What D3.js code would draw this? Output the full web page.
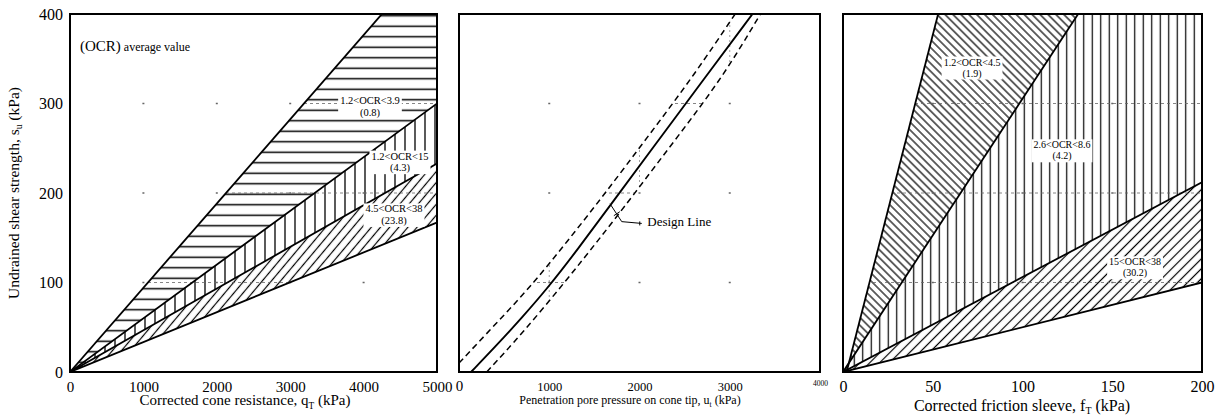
<!DOCTYPE html>
<html><head><meta charset="utf-8">
<script src="https://cdn.jsdelivr.net/npm/d3@7"></script>
<style>
body{margin:0;background:#fff}
svg{display:block}
text{font-family:"Liberation Serif","Times New Roman",serif;fill:#000}
</style>
</head><body>
<svg id="c" width="1221" height="418"></svg>
<script>
// ---------- data ----------
const yTicks = [0,100,200,300,400];
const qTicks = [0,1000,2000,3000,4000,5000];
const uTicks = [0,1000,2000,3000,4000];
const fTicks = [0,50,100,150,200];

// left panel: boundary lines (q_T kPa, s_u kPa)
const qLine1 = [[0,0],[4250,400]];
const qLine2 = [[0,0],[5000,300]];
const qLine3 = [[0,0],[5000,233]];
const qLine4 = [[0,0],[5000,167]];
const qLabelPos = [[4087,302],[4496,240],[4414,181]];
const qLabelText = ["1.2<OCR<3.9","1.2<OCR<15","4.5<OCR<38"];
const qLabelAvg = ["(0.8)","(4.3)","(23.8)"];

// middle panel: (u_t kPa, s_u kPa)
const designLine = [[133,0],[400,28],[700,61],[1000,96],[1300,135],[1700,189.5],[2200,257.5],[2700,325.5],[3252,400]];
const upperBound = [[0,10],[400,53],[800,96],[1200,146],[1600,197],[2100,264],[2600,331],[3060,400]];
const lowerBound = [[307,0],[700,43],[1178,101],[1550,148],[1919,196],[2430,264],[2933,331],[3340,400]];
const designLeader = [[1673,188],[1803,168],[2025,166]];
const designLabelPos = [2086,166];

// right panel: (f_T kPa, s_u kPa)
const fLine1 = [[2,0],[53,400]];
const fLine2 = [[0,0],[131,400]];
const fLine3 = [[0,0],[200,212]];
const fLine4 = [[0,0],[200,100]];
const fLabelPos = [[71.9,345],[122,252.5],[162.7,121.8]];
const fLabelText = ["1.2<OCR<4.5","2.6<OCR<8.6","15<OCR<38"];
const fLabelAvg = ["(1.9)","(4.2)","(30.2)"];

// ---------- scales ----------
const svg = d3.select("#c");
const defs = svg.append("defs");
const y  = d3.scaleLinear().domain([0,400]).range([372,14]);
const xL = d3.scaleLinear().domain([0,5000]).range([70,437]);
const xM = d3.scaleLinear().domain([0,4000]).range([459,820]);
const xR = d3.scaleLinear().domain([0,200]).range([843,1202]);

function hatch(id, spacing, angle, sw){
  const p = defs.append("pattern").attr("id",id).attr("patternUnits","userSpaceOnUse")
    .attr("width",spacing).attr("height",spacing).attr("patternTransform",`rotate(${angle})`);
  p.append("line").attr("x1",spacing/2).attr("x2",spacing/2).attr("y1",-1).attr("y2",spacing+1)
    .attr("stroke","#000").attr("stroke-width",sw);
}
hatch("hH",10.5,90,1.5);
hatch("hV",10,0,1.3);
hatch("hD1",7,40,1.2);
hatch("hVR",8.5,0,1.2);
hatch("hBk",5.6,-45,1.2);
hatch("hD2",7,45,1.2);

function clipRect(id, x){
  defs.append("clipPath").attr("id",id).append("rect")
    .attr("x",x.range()[0]).attr("y",y.range()[1])
    .attr("width",x.range()[1]-x.range()[0]).attr("height",y.range()[0]-y.range()[1]);
}
clipRect("cL",xL); clipRect("cM",xM); clipRect("cR",xR);

function ext(line, x){
  const a=[x(line[0][0]),y(line[0][1])], b=[x(line[1][0]),y(line[1][1])];
  return [a,[a[0]+(b[0]-a[0])*4, a[1]+(b[1]-a[1])*4]];
}
function wedge(l1,l2,x){
  const e1=ext(l1,x), e2=ext(l2,x);
  return "M"+[e1[0],e1[1],e2[1],e2[0]].map(p=>p.join(",")).join("L")+"Z";
}

function gridAndDots(g, x, xt, clipId, vertical){
  const inner = xt.slice(1,-1), yi = yTicks.slice(1,-1);
  const gg = g.append("g").attr("clip-path",`url(#${clipId})`);
  if (vertical) gg.selectAll("line.gx").data(inner).join("line").attr("x1",d=>x(d)).attr("x2",d=>x(d))
    .attr("y1",y(0)).attr("y2",y(400)).attr("stroke","#777").attr("stroke-width",0.7).attr("stroke-dasharray","2,3");
  gg.selectAll("line.gy").data(yi).join("line").attr("y1",d=>y(d)).attr("y2",d=>y(d))
    .attr("x1",x.range()[0]).attr("x2",x.range()[1]).attr("stroke","#666").attr("stroke-width",0.8).attr("stroke-dasharray","3,3");
  const pts=[]; inner.forEach(a=>yi.forEach(b=>pts.push([a,b])));
  g.selectAll("rect.dot").data(pts).join("rect").attr("x",d=>x(d[0])-1).attr("y",d=>y(d[1])-0.75)
    .attr("width",2).attr("height",1.5).attr("fill","#666");
}

function labels(g, x, pos, t1, t2, fs){
  pos.forEach((p,i)=>{
    const lg = g.append("g");
    const r = lg.append("rect").attr("fill","#fff");
    const a = lg.append("text").attr("x",x(p[0])).attr("y",y(p[1])).attr("text-anchor","middle")
      .attr("dominant-baseline","middle").attr("font-size",fs).text(t1[i]);
    const b = lg.append("text").attr("x",x(p[0])).attr("y",y(p[1])+fs*1.1).attr("text-anchor","middle")
      .attr("dominant-baseline","middle").attr("font-size",fs).text(t2[i]);
    const b1=a.node().getBBox(), b2=b.node().getBBox();
    const x0=Math.min(b1.x,b2.x)-2, x1=Math.max(b1.x+b1.width,b2.x+b2.width)+2;
    r.attr("x",x0).attr("y",b1.y).attr("width",x1-x0).attr("height",b2.y+b2.height-b1.y);
  });
}

function frame(x){
  svg.append("rect").attr("x",x.range()[0]).attr("y",y.range()[1])
    .attr("width",x.range()[1]-x.range()[0]).attr("height",y.range()[0]-y.range()[1])
    .attr("fill","none").attr("stroke","#000").attr("stroke-width",2);
}

function xAxis(x, ticks, fs, pad){
  const g = svg.append("g").attr("transform",`translate(0,${y(0)})`)
    .call(d3.axisBottom(x).tickValues(ticks).tickSize(0).tickPadding(pad).tickFormat(d3.format("d")));
  g.select(".domain").remove();
  g.selectAll("text").attr("font-size",fs).attr("font-family","Liberation Serif").attr("fill","#000");
  return g;
}

// ---------- left panel ----------
const gL = svg.append("g").attr("clip-path","url(#cL)");
defs.append("clipPath").attr("id","wL").append("path").attr("d",wedge(qLine1,qLine4,xL));
gL.append("path").attr("d",wedge(qLine1,qLine2,xL)).attr("fill","url(#hH)");
gL.append("path").attr("d",wedge(qLine2,qLine3,xL)).attr("fill","url(#hV)");
gL.append("path").attr("d",wedge(qLine3,qLine4,xL)).attr("fill","url(#hD1)");
gridAndDots(gL, xL, qTicks, "wL", false);
[qLine1,qLine2,qLine3,qLine4].forEach(l=>{
  const e=ext(l,xL);
  gL.append("line").attr("x1",e[0][0]).attr("y1",e[0][1]).attr("x2",e[1][0]).attr("y2",e[1][1])
    .attr("stroke","#000").attr("stroke-width",1.8);
});
labels(gL, xL, qLabelPos, qLabelText, qLabelAvg, 10.5);
const ocr = svg.append("text").attr("x",xL(136)).attr("y",y(362)).attr("dominant-baseline","middle");
ocr.append("tspan").attr("font-size",15).text("(OCR)");
ocr.append("tspan").attr("font-size",12).text(" average value");
frame(xL);
xAxis(xL, qTicks, 15, 9);

// ---------- middle panel ----------
const gM = svg.append("g").attr("clip-path","url(#cM)");
const ln = d3.line().x(d=>xM(d[0])).y(d=>y(d[1])).curve(d3.curveBasis);
const bandD = ln(upperBound) + ln(lowerBound.slice().reverse()).replace(/^M/,"L") + "Z";
defs.append("clipPath").attr("id","wM").append("path").attr("d",bandD);
gridAndDots(gM, xM, uTicks, "wM", true);
gM.append("path").attr("d",ln(upperBound)).attr("fill","none").attr("stroke","#000").attr("stroke-width",1.5).attr("stroke-dasharray","6,4");
gM.append("path").attr("d",ln(lowerBound)).attr("fill","none").attr("stroke","#000").attr("stroke-width",1.5).attr("stroke-dasharray","6,4");
gM.append("path").attr("d",ln(designLine)).attr("fill","none").attr("stroke","#000").attr("stroke-width",1.9);
const lead = d3.line().x(d=>xM(d[0])).y(d=>y(d[1]));
gM.append("path").attr("d",lead(designLeader)).attr("fill","none").attr("stroke","#000").attr("stroke-width",1);
{
  const a=designLeader[0], b=designLeader[1], e=designLeader[2];
  const mx=(xM(a[0])+xM(b[0]))/2+1, my=(y(a[1])+y(b[1]))/2+1;
  gM.append("line").attr("x1",mx-3).attr("y1",my+2).attr("x2",mx+3).attr("y2",my-2).attr("stroke","#000").attr("stroke-width",1);
  gM.append("line").attr("x1",xM(e[0])-2).attr("x2",xM(e[0])-2).attr("y1",y(e[1])-2).attr("y2",y(e[1])+2).attr("stroke","#000").attr("stroke-width",1);
}
gM.append("text").attr("x",xM(designLabelPos[0])).attr("y",y(designLabelPos[1])).attr("dominant-baseline","middle")
  .attr("font-size",13).text("Design Line");
frame(xM);
const axM = xAxis(xM, uTicks, 12.5, 10);
axM.selectAll("text").filter(d=>d===0).attr("font-size",15).attr("dy","0.62em");
axM.selectAll("text").filter(d=>d===4000).attr("font-size",7.5).attr("dy","0.5em");

// ---------- right panel ----------
const gR = svg.append("g").attr("clip-path","url(#cR)");
defs.append("clipPath").attr("id","wR").append("path").attr("d",wedge(fLine1,fLine4,xR));
gR.append("path").attr("d",wedge(fLine1,fLine2,xR)).attr("fill","url(#hBk)");
gR.append("path").attr("d",wedge(fLine2,fLine3,xR)).attr("fill","url(#hVR)");
gR.append("path").attr("d",wedge(fLine3,fLine4,xR)).attr("fill","url(#hD2)");
gridAndDots(gR, xR, fTicks, "wR", false);
[fLine1,fLine2,fLine3,fLine4].forEach(l=>{
  const e=ext(l,xR);
  gR.append("line").attr("x1",e[0][0]).attr("y1",e[0][1]).attr("x2",e[1][0]).attr("y2",e[1][1])
    .attr("stroke","#000").attr("stroke-width",1.8);
});
labels(gR, xR, fLabelPos, fLabelText, fLabelAvg, 10);
frame(xR);
xAxis(xR, fTicks, 16, 9);

// ---------- y axis ----------
const gy = svg.append("g").attr("transform",`translate(${xL.range()[0]},0)`)
  .call(d3.axisLeft(y).tickValues(yTicks).tickSize(0).tickPadding(7));
gy.select(".domain").remove();
gy.selectAll("text").attr("font-size",16).attr("font-family","Liberation Serif").attr("fill","#000");

// ---------- axis titles ----------
function title(xc, yc, pre, sub, post, fs, rot){
  const t = svg.append("text").attr("text-anchor","middle").attr("font-size",fs)
    .attr("transform",`translate(${xc},${yc})${rot?" rotate(-90)":""}`).attr("dominant-baseline","middle");
  t.append("tspan").text(pre);
  t.append("tspan").attr("font-size",fs*0.62).attr("dy",fs*0.3).text(sub);
  t.append("tspan").attr("dy",-fs*0.3).text(post);
}
title(245, 402, "Corrected cone resistance, q", "T", " (kPa)", 15);
title(630, 401, "Penetration pore pressure on cone tip, u", "t", " (kPa)", 12);
title(1022, 407, "Corrected friction sleeve, f", "T", " (kPa)", 16);
title(15, 193, "Undrained shear strength, s", "u", " (kPa)", 15.5, true);
</script>
</body></html>
